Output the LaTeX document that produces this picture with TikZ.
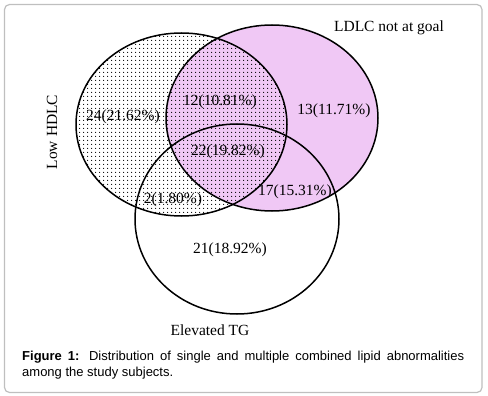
\documentclass[tikz,border=0pt]{standalone}
\usepackage{fontspec}
\setmainfont{Liberation Serif}
\setsansfont{Liberation Sans}
\usetikzlibrary{patterns.meta}
\definecolor{ldlcviolet}{HTML}{F0C8F5}
\tikzset{
  setline/.style={line width=1.5pt},
  countlabel/.style={font=\fontsize{15.5}{18}\selectfont, inner sep=0pt},
  setname/.style={font=\fontsize{15.5}{18}\selectfont, inner sep=0pt},
}

\begin{document}
\begin{tikzpicture}[x=1pt, y=-1pt]
        \useasboundingbox (0,0) rectangle (488,396);
        % frame
        \draw[rounded corners=5pt, draw=black!25, line width=1.2pt] (4.5,4.5) rectangle (482,392.5);

        % LDLC not at goal
        \fill[ldlcviolet] (272,118) ellipse [x radius=106, y radius=93];
        % Low HDLC
        \fill[pattern={Dots[distance=4pt, radius=0.7pt]}] (181.5,124.5) ellipse [x radius=105.5, y radius=91.5];

        \begin{scope}[setline]
            \draw (181.5,124.5) ellipse [x radius=105.5, y radius=91.5];
            \draw (272,118) ellipse [x radius=106, y radius=93];
            % Elevated TG
            \draw (237,219) ellipse [x radius=102, y radius=95];
        \end{scope}

        % set names
        \node[setname] (ldlc) at (389,28) {LDLC not at goal};
        \node[setname, rotate=90] (hdlc) at (52,132) {Low HDLC};
        \node[setname] (tg) at (210,330) {Elevated TG};

        % counts
        \node[countlabel] (onlyhdlc) at (123,117) {24(21.62\%)};
        \node[countlabel] (hdlcldlc) at (220,102) {12(10.81\%)};
        \node[countlabel] (onlyldlc) at (334,111) {13(11.71\%)};
        \node[countlabel] (allthree) at (228,152) {22(19.82\%)};
        \node[countlabel] (ldlctg) at (295,192) {17(15.31\%)};
        \node[countlabel] (hdlctg) at (173,200) {2(1.80\%)};
        \node[countlabel] (onlytg) at (230,250) {21(18.92\%)};

        % caption
        \node[anchor=base west, inner sep=0pt, text width=442pt, align=justify,
              font=\sffamily\fontsize{13}{16.5}\selectfont] (caption) at (22,360)
            {\textbf{Figure 1:} Distribution of single and multiple combined lipid abnormalities\linebreak among the study subjects.};
    \end{tikzpicture}
\end{document}
